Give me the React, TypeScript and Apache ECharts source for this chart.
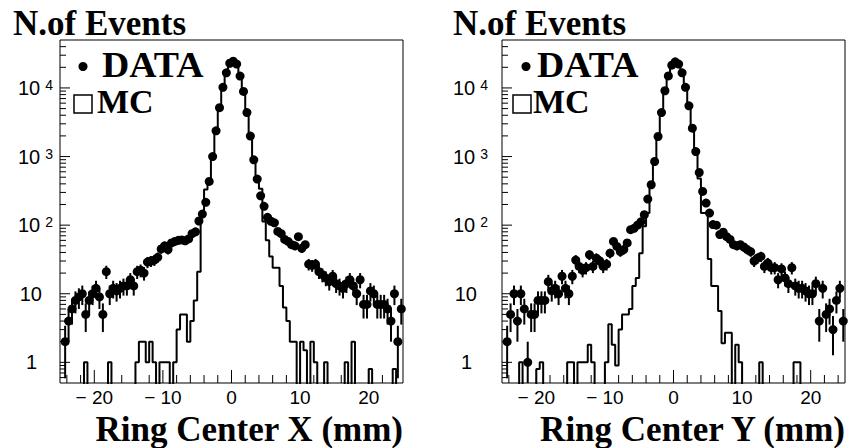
import React, { useEffect, useRef } from "react";
import * as echarts from "echarts";

// Bin centres (mm), 0.5 mm bins from -25 to 25
const binCenters: number[] = Array.from({ length: 100 }, (_, i) => -24.75 + 0.5 * i);

// Left panel: Ring Center X
const dataX: (number | null)[] = [
  null, 2, 4, 6, 8, 9, 10, 5, 8, 10,
  12, 9, 5, 21, 10, 12, 11, 12, 13, 13,
  16, 13, 21, 22, 20, 29, 30, 31, 34, 45,
  50, 44, 55, 58, 60, 61, 59, 63, 75, 80,
  115, 145, 215, 434, 1000, 2370, 5150, 10200, 16600, 22900,
  24600, 22300, 14900, 8900, 4370, 1990, 895, 470, 268, 188,
  130, 114, 108, 81, 75, 62, 58, 52, 50, 68,
  46, 52, 27, 26, 27, 21, 19, 17, 15, 18,
  14, 13, 12, 14, 16, 13, 10, 16, 7, 7,
  11, 10, 7, 7, 7, 6, 4, 10, 2, 6,
];
const mcX: number[] = [
  0, 0, 0, 0, 0, 0, 0, 1, 0, 0,
  0, 0, 0, 0, 1, 0, 0, 0, 0, 0,
  0, 0, 1, 2, 2, 1, 2, 1, 0, 1,
  1, 1, 0, 1, 3, 5, 5, 2, 4, 8,
  21, 150, 330, 440, 1000, 2400, 5100, 10200, 16600, 22500,
  24000, 22000, 14800, 8900, 4300, 1950, 880, 430, 340, 113,
  60, 35, 24, 24, 13, 6.3, 4, 2, 2, 0,
  2, 1.5, 0, 2, 1, 0, 0, 1, 0, 0,
  0, 0, 0, 1, 0, 2, 0, 0, 0, 0,
  0.8, 0, 0, 0, 0, 0, 0, 0.8, 0, 0,
];

// Right panel: Ring Center Y
const dataY: (number | null)[] = [
  null, 2, 5, 10, 4, 10, 6, 1, 5, 5,
  8, 8, 8, 15, 11, 12, 10, 18, 12, 10,
  18, 31, 25, 22, 24, 37, 25, 33, 30, 25,
  27, 39, 58, 49, 41, 44, 55, 86, 90, 100,
  112, 142, 240, 388, 847, 1960, 4370, 9100, 14950, 21500,
  24000, 22300, 16600, 10200, 5480, 2590, 1180, 585, 310, 210,
  150, 102, 100, 73, 79, 68, 62, 52, 50, 52,
  48, 44, 41, 30, 33, 35, 25, 28, 24, 24,
  16, 23, 17, 14, 24, 13, 12, 12, 11, 10,
  10, 14, 4, 12, 5, 6, 3, 8, 12, 4,
];
const mcY: number[] = [
  0, 0, 0, 0, 0, 1, 0, 0, 0, 0,
  0.8, 1, 0, 0, 0, 0, 0, 0, 0, 1,
  1, 0, 1, 1, 1, 1.8, 1, 0, 0, 0,
  1, 3.6, 1.8, 0.9, 3, 5, 5, 6, 13, 17,
  39, 96, 150, 390, 850, 1950, 4400, 9000, 15000, 21500,
  24000, 22300, 16500, 10000, 5400, 2500, 1150, 480, 150, 150,
  32, 13, 13, 5.6, 1.9, 2.7, 2.7, 0, 1.8, 1,
  0, 0, 0, 0, 0, 1, 0, 0, 0, 0,
  0, 0, 0, 0, 0, 1, 1, 0, 0, 0,
  0, 0, 0, 0, 0, 0, 0, 0, 0, 0,
];

const xTickValues: number[] = [-24, -22, -20, -18, -16, -14, -12, -10, -8, -6, -4, -2, 0, 2, 4, 6, 8, 10, 12, 14, 16, 18, 20, 22, 24];
const xLabelValues: number[] = [-20, -10, 0, 10, 20];
const yDecades: number[] = [0.1, 1, 10, 100, 1000, 10000];
const yMultipliers: number[] = [1, 2, 3, 4, 5, 6, 7, 8, 9];

const xTitles = ["Ring Center X (mm)", "Ring Center Y (mm)"];
const yTitle = "N.of Events";
const legendLabels = ["DATA", "MC"];

const X_MIN = -25;
const X_MAX = 25;
const Y_MIN = 0.5;
const Y_MAX = 50000;
const ZERO = 1e-3;

const SERIF = '"Liberation Serif", "Times New Roman", serif';
const SANS = '"Liberation Sans", Arial, sans-serif';

const panels = [
  { data: dataX, mc: mcX, left: 60, labelMargin: 7, titleX: 13, xTitleRight: 403, dotX: 83, textX: 102, rectX: 74, mcTextX: 97 },
  { data: dataY, mc: mcY, left: 502, labelMargin: 14, titleX: 453, xTitleRight: 845, dotX: 526, textX: 537, rectX: 513, mcTextX: 533 },
];
const GRID_TOP = 40;
const GRID_SIZE = 343;

function isMultipleOf10(v: number) {
  return Math.abs(v / 10 - Math.round(v / 10)) < 1e-9;
}

function yLabel(v: number): string {
  const e = Math.log10(v);
  const r = Math.round(e);
  if (Math.abs(e - r) > 1e-6) return "";
  if (r === 0) return "{p1|1}";
  if (r === 1) return "{p10|10}";
  return "{b|10}{s|" + r + "}";
}

function textStyle(text: string, font: string, align: string) {
  return {
    text,
    font,
    fill: "#000",
    align,
    textAlign: align,
    verticalAlign: "middle",
    textVerticalAlign: "middle",
  };
}

function buildOption() {
  const grids: any[] = [];
  const xAxes: any[] = [];
  const yAxes: any[] = [];
  const series: any[] = [];
  const graphics: any[] = [];
  const halfBin = (binCenters[1] - binCenters[0]) / 2;

  const yTicks: [number, number, number][] = [];
  yDecades.forEach((d) => {
    yMultipliers.forEach((m) => {
      const v = d * m;
      if (v > Y_MIN * 1.0001 && v < Y_MAX * 0.9999) yTicks.push([X_MIN, v, m === 1 ? 1 : 0]);
    });
  });
  const xTicks: [number, number, number][] = xTickValues.map((v) => [v, 1, isMultipleOf10(v) ? 1 : 0]);

  panels.forEach((p, k) => {
    grids.push({
      left: p.left,
      top: GRID_TOP,
      width: GRID_SIZE,
      height: GRID_SIZE,
      show: true,
      borderColor: "#000",
      borderWidth: 1,
      backgroundColor: "transparent",
    });
    xAxes.push({
      type: "value",
      gridIndex: k,
      min: X_MIN,
      max: X_MAX,
      interval: 5,
      axisLine: { show: false },
      axisTick: { show: false },
      splitLine: { show: false },
      axisLabel: {
        color: "#000",
        fontSize: 19,
        fontFamily: SANS,
        margin: 5,
        formatter: (v: number) => {
          if (!xLabelValues.some((t) => Math.abs(t - v) < 1e-9)) return "";
          return v < 0 ? "\u2212 " + Math.abs(v) : String(v);
        },
      },
    });
    yAxes.push({
      type: "log",
      logBase: 10,
      gridIndex: k,
      min: Y_MIN,
      max: Y_MAX,
      axisLine: { show: false },
      axisTick: { show: false },
      splitLine: { show: false },
      minorTick: { show: false },
      axisLabel: {
        color: "#000",
        fontFamily: SANS,
        fontSize: 20,
        align: "right",
        margin: p.labelMargin,
        formatter: yLabel,
        rich: {
          b: { fontSize: 20, fontFamily: SANS, color: "#000" },
          s: { fontSize: 14, fontFamily: SANS, color: "#000", verticalAlign: "top", padding: [0, 0, 0, 5] },
          p1: { fontSize: 20, fontFamily: SANS, color: "#000", padding: [0, 16, 0, 0] },
          p10: { fontSize: 20, fontFamily: SANS, color: "#000", padding: [0, 11, 0, 0] },
        },
      },
    });

    // MC histogram (step outline)
    const mcPts: [number, number][] = binCenters.map((c, i) => [c - halfBin, p.mc[i] > 0 ? p.mc[i] : ZERO]);
    const last = p.mc[p.mc.length - 1];
    mcPts.push([binCenters[binCenters.length - 1] + halfBin, last > 0 ? last : ZERO]);
    series.push({
      type: "line",
      name: "MC",
      xAxisIndex: k,
      yAxisIndex: k,
      data: mcPts,
      step: "end",
      showSymbol: false,
      symbol: "none",
      clip: true,
      lineStyle: { color: "#000", width: 2 },
      z: 2,
    });

    // DATA error bars
    const errPts: [number, number, number][] = [];
    const pts: [number, number][] = [];
    binCenters.forEach((c, i) => {
      const v = p.data[i];
      if (v == null) return;
      const e = Math.sqrt(v);
      errPts.push([c, Math.max(v - e, ZERO), v + e]);
      pts.push([c, v]);
    });
    series.push({
      type: "custom",
      xAxisIndex: k,
      yAxisIndex: k,
      data: errPts,
      encode: { x: 0, y: [1, 2] },
      clip: true,
      z: 3,
      renderItem: (params: any, api: any) => {
        const cs = params.coordSys;
        const x = api.value(0);
        const lo = api.value(1);
        const hi = api.value(2);
        const top = api.coord([x, hi]);
        const bot = api.coord([x, lo]);
        const yBottom = cs.y + cs.height;
        const y1 = Math.max(top[1], cs.y);
        const y2 = isFinite(bot[1]) ? Math.min(bot[1], yBottom) : yBottom;
        return {
          type: "line",
          shape: { x1: top[0], y1, x2: top[0], y2 },
          style: { stroke: "#000", lineWidth: 2 },
        };
      },
    });
    series.push({
      type: "scatter",
      name: "DATA",
      xAxisIndex: k,
      yAxisIndex: k,
      data: pts,
      symbol: "circle",
      symbolSize: 9,
      itemStyle: { color: "#000", opacity: 1 },
      z: 4,
    });

    // Axis ticks (ROOT style, inside)
    series.push({
      type: "custom",
      xAxisIndex: k,
      yAxisIndex: k,
      data: xTicks,
      encode: { x: 0, y: 1 },
      z: 5,
      renderItem: (params: any, api: any) => {
        const cs = params.coordSys;
        const px = api.coord([api.value(0), 1])[0];
        const len = api.value(2) ? 13 : 8;
        const yb = cs.y + cs.height;
        return { type: "line", shape: { x1: px, y1: yb, x2: px, y2: yb - len }, style: { stroke: "#000", lineWidth: 1 } };
      },
    });
    series.push({
      type: "custom",
      xAxisIndex: k,
      yAxisIndex: k,
      data: yTicks,
      encode: { x: 0, y: 1 },
      z: 5,
      renderItem: (params: any, api: any) => {
        const cs = params.coordSys;
        const py = api.coord([X_MIN, api.value(1)])[1];
        const len = api.value(2) ? 10 : 6;
        return { type: "line", shape: { x1: cs.x, y1: py, x2: cs.x + len, y2: py }, style: { stroke: "#000", lineWidth: 1 } };
      },
    });

    // Texts and legend
    graphics.push({
      type: "text",
      x: p.titleX,
      y: 23.5,
      style: textStyle(yTitle, "bold 35px " + SERIF, "left"),
    });
    graphics.push({
      type: "text",
      x: p.xTitleRight,
      y: 429,
      style: textStyle(xTitles[k], "bold 35px " + SERIF, "right"),
    });
    graphics.push({
      type: "circle",
      shape: { cx: p.dotX, cy: 66.5, r: 4.5 },
      style: { fill: "#000" },
    });
    graphics.push({
      type: "text",
      x: p.textX,
      y: 65.5,
      scaleX: 1.08,
      style: textStyle(legendLabels[0], "bold 35px " + SERIF, "left"),
    });
    graphics.push({
      type: "rect",
      shape: { x: p.rectX, y: 95, width: 18, height: 18 },
      style: { fill: "none", stroke: "#000", lineWidth: 1.5 },
    });
    graphics.push({
      type: "text",
      x: p.mcTextX,
      y: 101.5,
      style: textStyle(legendLabels[1], "bold 34px " + SERIF, "left"),
    });
  });

  return {
    animation: false,
    backgroundColor: "#fff",
    grid: grids,
    xAxis: xAxes,
    yAxis: yAxes,
    series,
    graphic: graphics,
  };
}

export default function App() {
  const ref = useRef<HTMLDivElement>(null);
  useEffect(() => {
    if (!ref.current) return;
    const chart = echarts.init(ref.current, undefined, { renderer: "svg" });
    chart.setOption(buildOption() as any);
    return () => chart.dispose();
  }, []);
  return (
    <div
      ref={ref}
      style={{ position: "fixed", left: 0, top: 0, width: 854, height: 448, background: "#fff" }}
    />
  );
}
